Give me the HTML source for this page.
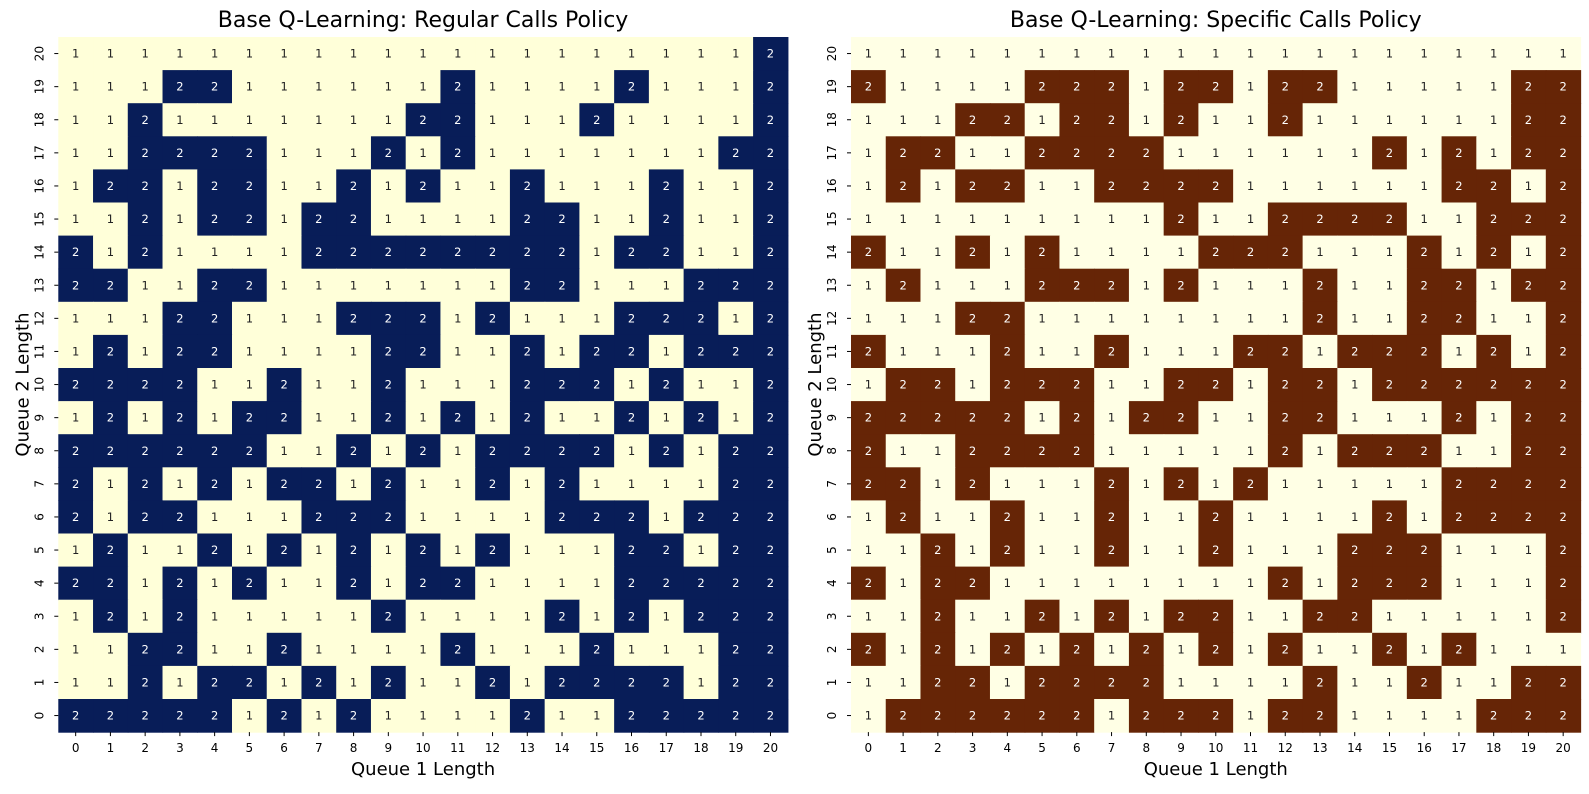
<!DOCTYPE html>
<html><head><meta charset="utf-8"><style>
body{margin:0;background:#fff;font-family:"DejaVu Sans","Liberation Sans",sans-serif}
svg text{font-family:"DejaVu Sans","Liberation Sans",sans-serif}
</style></head><body>
<svg id="c" width="1589" height="790"></svg>
<script>
const xCats=[0,1,2,3,4,5,6,7,8,9,10,11,12,13,14,15,16,17,18,19,20];
const yCats=[0,1,2,3,4,5,6,7,8,9,10,11,12,13,14,15,16,17,18,19,20];
// rows listed top (Queue2=20) to bottom (Queue2=0)
const regularRows=[
"111111111111111111112","111221111112111121112","112111111122111211112","112222111212111111122",
"122122112121121112112","112122122111122112112","212111122222222122112","221122111111122111222",
"111221112221211122212","121221111221121221222","222211211211122212112","121212211212121121212",
"222222112121222212122","212121221211212111122","212211122211112221222","121121212121211122122",
"221212112122111122222","121211111211112121222","112211211112111211122","112122121211212222122",
"222221212111121122222"];
const specificRows=[
"111111111111111111111","211112221221221111122","111221221211211111122","122112222111111212122",
"121221122221111112212","111111111211222211222","211212111122211121212","121112221211121122122",
"111221111111121122112","211121121112212221212","122122211221221222222","222221212211221112122",
"211222211111212221122","221211121212111112222","121121121121111212222","112121121121112221112",
"212211111111212221112","112112121221122111112","212121212121211212111","112212222111121121122",
"122222212221221111222"];
const titles=["Base Q-Learning: Regular Calls Policy","Base Q-Learning: Specific Calls Policy"];
const panels=[{x0:58.3,rows:regularRows,lo:"#ffffd9",hi:"#081d58",name:"regular"},
              {x0:851,rows:specificRows,lo:"#ffffe5",hi:"#662506",name:"specific"}];
const NS="http://www.w3.org/2000/svg";
const svg=document.getElementById('c');
const Y0=37,CW=34.74,CH=33.1;
function mk(t,a,p){const e=document.createElementNS(NS,t);for(const k in a)e.setAttribute(k,a[k]);(p||svg).appendChild(e);return e;}
panels.forEach((P,pi)=>{
  const g=mk('g',{});
  
  
  const xs=i=>P.x0+i*CW, ys=v=>Y0+(20-v)*CH;
  P.rows.forEach((row,ri)=>{
    const v=yCats[20-ri];
    for(let ci=0;ci<xCats.length;ci++){
      const val=row[ci];
      const r=mk('rect',{x:xs(ci),y:ys(v),width:CW+0.6,height:CH+0.6,fill:val==='2'?P.hi:P.lo},g);
      
      
      const t=mk('text',{x:xs(ci)+CW/2,y:ys(v)+CH/2+4,'text-anchor':'middle','font-size':11.5,fill:val==='2'?'#fff':'#222'},g);
      t.textContent=val;
      
      
    }
  });
  const bottom=Y0+21*CH;
  xCats.forEach((c,i)=>{
    const cx=xs(i)+CW/2;
    mk('line',{x1:cx,x2:cx,y1:bottom,y2:bottom+4,stroke:'#000'},g);
    const t=mk('text',{x:cx,y:bottom+20,'text-anchor':'middle','font-size':12},g);
    t.textContent=c;
    
    
  });
  yCats.forEach(v=>{
    const cy=ys(v)+CH/2;
    mk('line',{x1:P.x0-4,x2:P.x0,y1:cy,y2:cy,stroke:'#000'},g);
    const tx=P.x0-19;
    const t=mk('text',{x:tx,y:cy,'text-anchor':'middle','font-size':12,transform:`rotate(-90 ${tx} ${cy})`,dy:4},g);
    t.textContent=v;
    
    
  });
  const mid=P.x0+10.5*CW;
  const tt=mk('text',{x:mid,y:27,'text-anchor':'middle','font-size':22},g);
  tt.textContent=titles[pi];
  
  
  const xl=mk('text',{x:mid,y:775,'text-anchor':'middle','font-size':18},g);
  xl.textContent='Queue 1 Length';
  
  
  const ly=Y0+10.5*CH, lx=P.x0-30;
  const yl=mk('text',{x:lx,y:ly,'text-anchor':'middle','font-size':18,transform:`rotate(-90 ${lx} ${ly})`},g);
  yl.textContent='Queue 2 Length';
  
  
});
</script>
</body></html>
